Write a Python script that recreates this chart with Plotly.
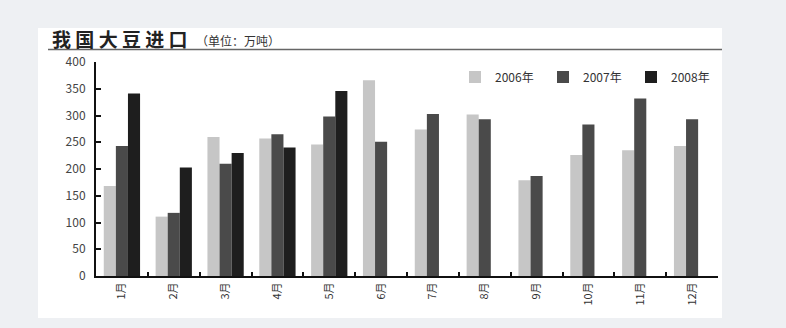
import plotly.graph_objects as go

months = ["1月", "2月", "3月", "4月", "5月", "6月", "7月", "8月", "9月", "10月", "11月", "12月"]
y2006 = [168, 111, 260, 257, 246, 366, 274, 302, 179, 226, 235, 243]
y2007 = [243, 118, 210, 265, 298, 251, 303, 293, 187, 283, 332, 293]
y2008 = [341, 203, 230, 240, 346, None, None, None, None, None, None, None]
series_names = ["2006年", "2007年", "2008年"]
series_colors = ["#c6c6c6", "#4a4a4a", "#1e1e1e"]
yticks = [0, 50, 100, 150, 200, 250, 300, 350, 400]

FONT = "Noto Sans CJK SC, Noto Sans, sans-serif"

fig = go.Figure()
for name, vals, col in zip(series_names, [y2006, y2007, y2008], series_colors):
    fig.add_trace(go.Bar(x=months, y=vals, name=name, marker=dict(color=col, line=dict(width=0))))

# plot area in pixels: x 96..718, y 62..276
L, R, T, B = 96, 718, 62, 276
W, H = 786, 328
pw, ph = R - L, B - T

def px(x):
    return (x - L) / pw

def py(y):
    return (B - y) / ph

fig.update_layout(
    width=W, height=H,
    margin=dict(l=L, r=W - R, t=T, b=H - B, pad=0),
    paper_bgcolor="#eef0f3",
    plot_bgcolor="white",
    barmode="group",
    bargap=0.3,
    bargroupgap=0,
    font=dict(family=FONT, color="#333333", size=11),
    showlegend=True,
    legend=dict(
        orientation="h", x=px(719), xanchor="right", y=py(77), yanchor="middle",
        bgcolor="rgba(0,0,0,0)", font=dict(size=12, color="#333333"),
        entrywidth=43, entrywidthmode="pixels", itemwidth=30,
        traceorder="normal",
    ),
    xaxis=dict(
        type="category", showgrid=False, showline=True, linecolor="#111111", linewidth=2,
        ticks="inside", ticklen=4, tickcolor="#111111", tickwidth=1.5, tickson="boundaries",
        tickangle=-90, tickfont=dict(size=11, color="#333333"), fixedrange=True,
    ),
    yaxis=dict(
        range=[0, 400], tickvals=yticks, showgrid=False, zeroline=False,
        showline=True, linecolor="#111111", linewidth=2,
        ticks="inside", ticklen=5, tickcolor="#111111", tickwidth=1.5,
        tickfont=dict(size=12, color="#444444"), ticklabelstandoff=6,
    ),
    shapes=[
        dict(type="rect", xref="paper", yref="paper", x0=px(38), x1=px(722), y0=py(318), y1=py(28),
             fillcolor="white", line=dict(width=0), layer="below"),
        dict(type="line", xref="paper", yref="paper", x0=px(48), x1=px(722), y0=py(49.5), y1=py(49.5),
             line=dict(color="#666666", width=1.5)),
    ],
    annotations=[
        dict(text="<b>我 国 大 豆 进 口</b>", xref="paper", yref="paper", x=px(50), y=py(38.5),
             xanchor="left", yanchor="middle", showarrow=False,
             font=dict(size=19, color="#222222", family=FONT)),
        dict(text="（单位：万吨）", xref="paper", yref="paper", x=px(194), y=py(41),
             xanchor="left", yanchor="middle", showarrow=False,
             font=dict(size=12, color="#333333", family=FONT)),
    ],
)

fig.write_html("out.html")
